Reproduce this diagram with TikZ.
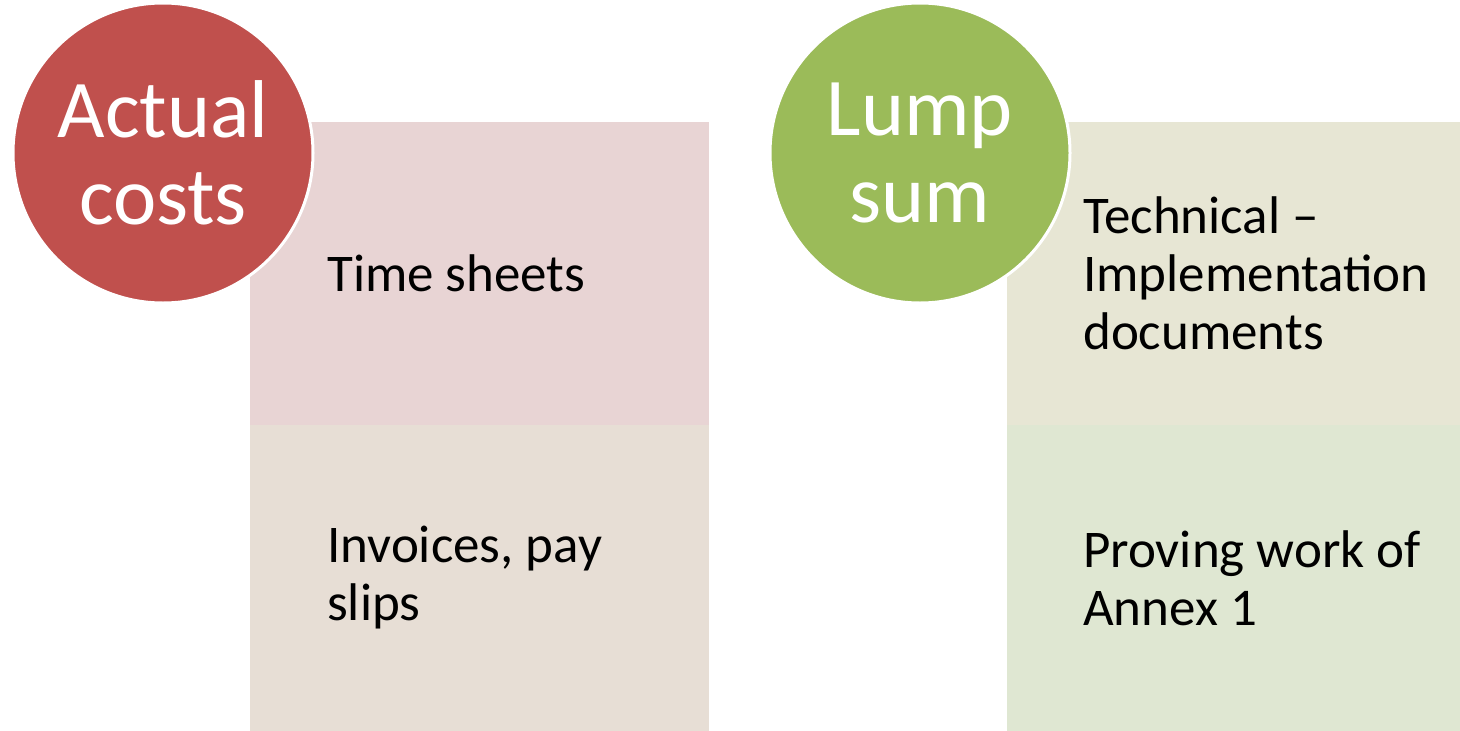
\documentclass[tikz,border=0pt]{standalone}
\usepackage{fontspec}
\setmainfont{Carlito}
\definecolor{redc}{HTML}{C0504D}
\definecolor{greenc}{HTML}{9BBB59}
\definecolor{pinkA}{HTML}{E8D4D4}
\definecolor{pinkB}{HTML}{E7DED5}
\definecolor{olvA}{HTML}{E7E6D4}
\definecolor{olvB}{HTML}{DFE7D2}
\tikzset{
  x=1pt, y=-1pt,
  boxtext/.style={font=\fontsize{53}{58}\selectfont, align=left, anchor=west, inner sep=0pt},
  bigcirc/.style={circle, draw=white, line width=3pt, minimum size=300pt, inner sep=0pt,
     font=\fontsize{82}{87}\selectfont, text=white, align=center},
}
\begin{document}
\begin{tikzpicture}
\useasboundingbox (0,0) rectangle (1460,731);
% left group
\fill[pinkA] (250,122) rectangle (709,425);
\fill[pinkB] (250,425) rectangle (709,731);
\node[boxtext] (ts) at (327,273) {Time sheets};
\node[boxtext] (inv) at (327,578) {Invoices, pay\\slips};
\node[bigcirc, fill=redc] (ac) at (163,153) {Actual\\costs};
% right group
\fill[olvA] (1007,122) rectangle (1460,425);
\fill[olvB] (1007,425) rectangle (1460,731);
\node[boxtext] (tech) at (1083,273) {Technical –\\Implementation\\documents};
\node[boxtext] (prov) at (1083,578) {Proving work of\\Annex 1};
\node[bigcirc, fill=greenc] (ls) at (920,153) {Lump\\sum};
\end{tikzpicture}
\end{document}
